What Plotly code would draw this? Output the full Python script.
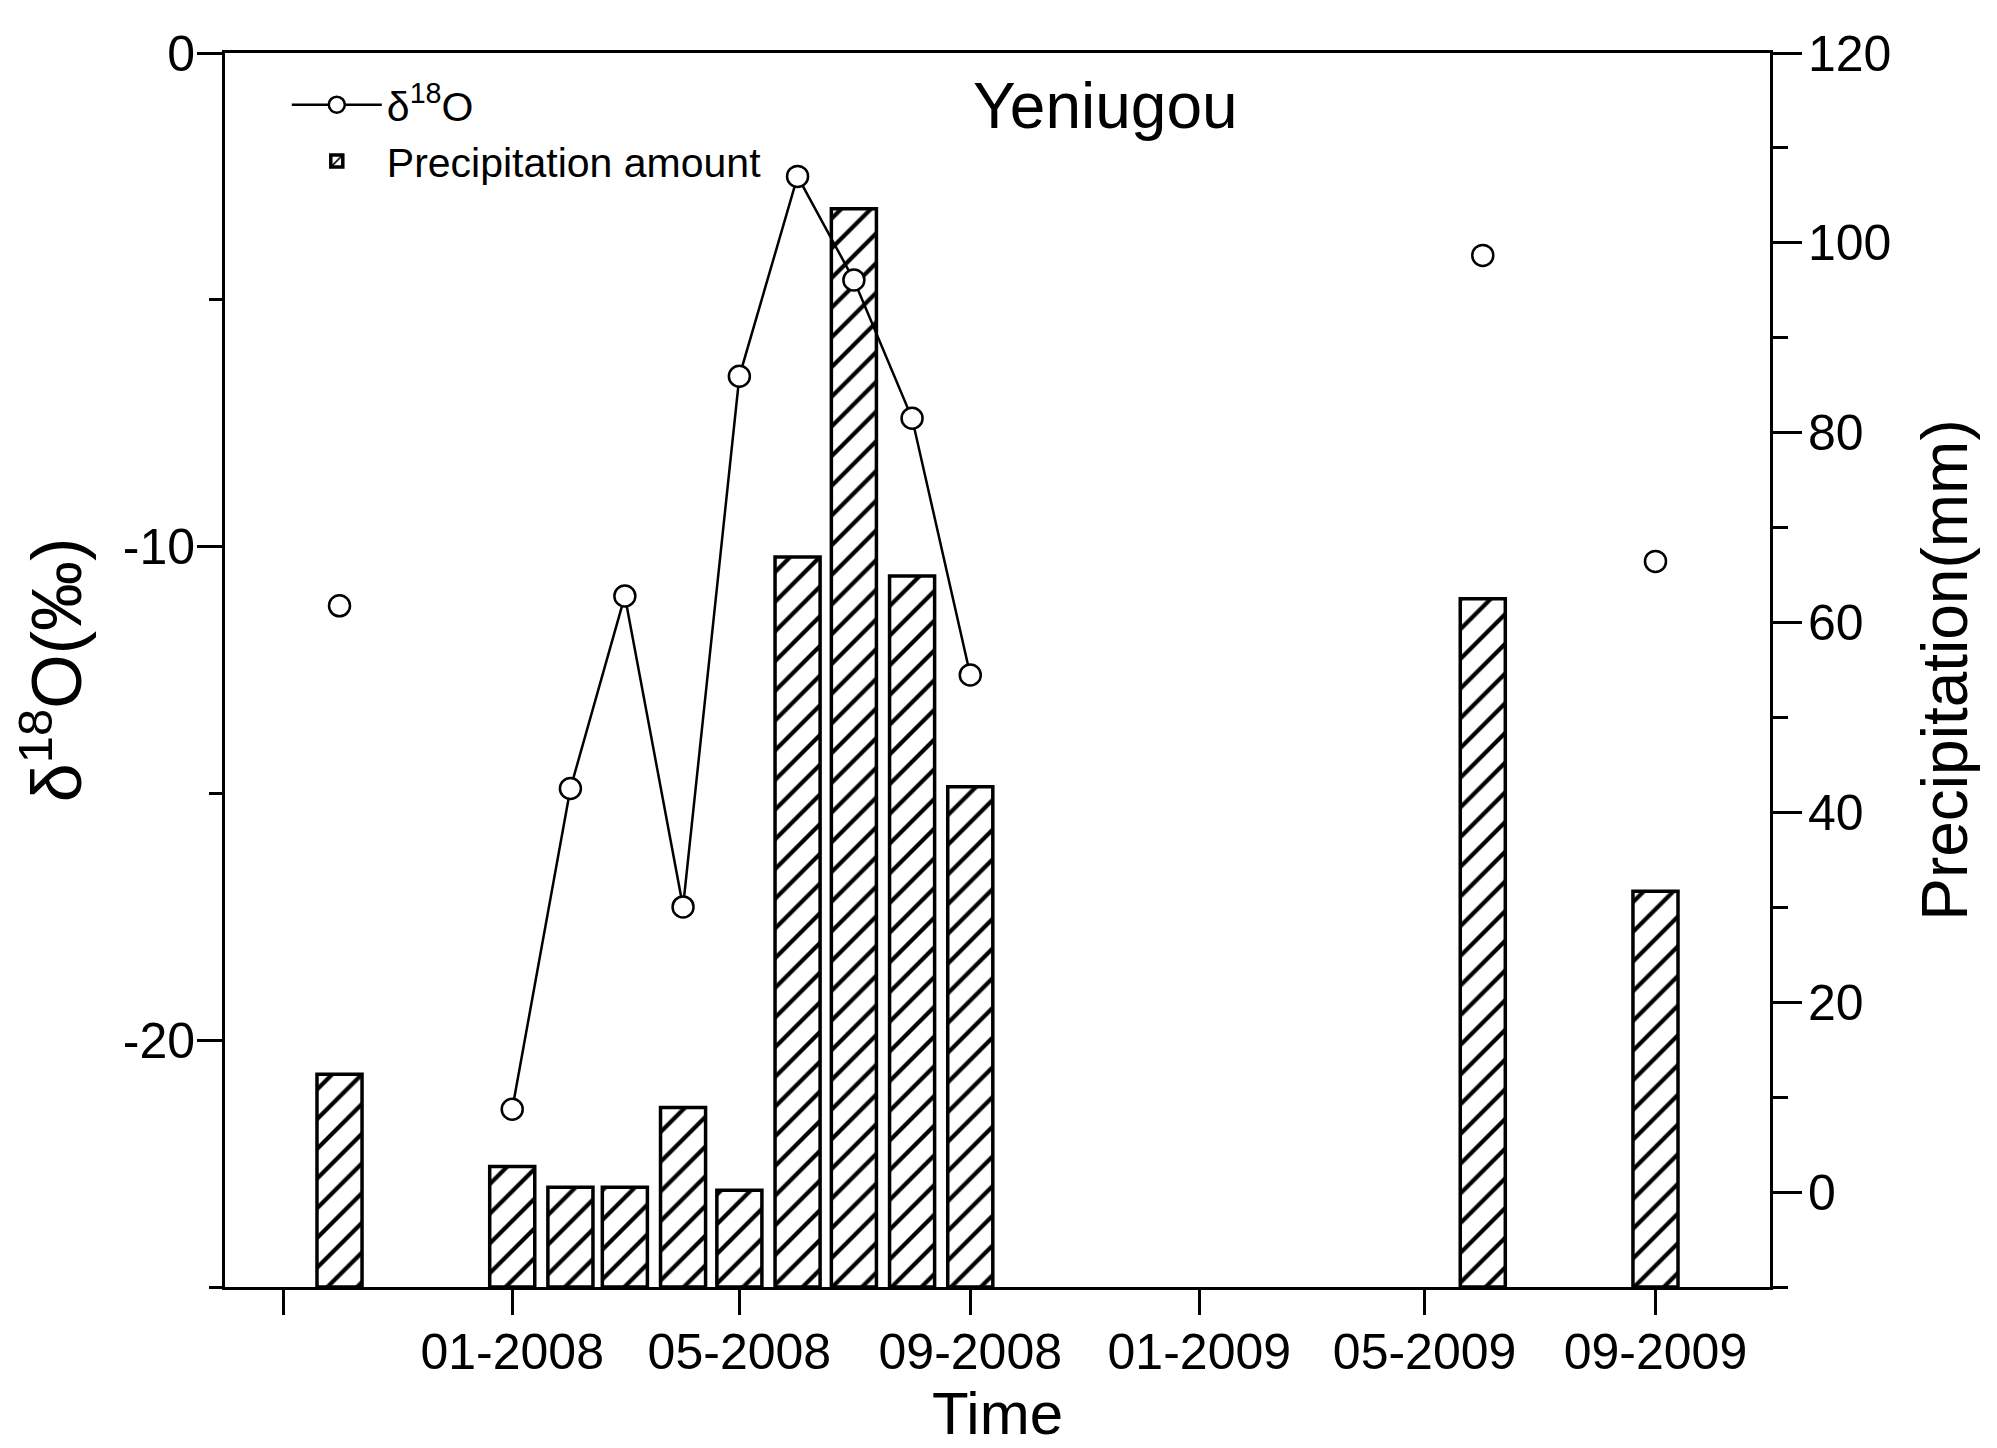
import plotly.graph_objects as go

# ---------------- data ----------------
months = ["2007-10-01", "2008-01-01", "2008-02-01", "2008-03-01", "2008-04-01",
          "2008-05-01", "2008-06-01", "2008-07-01", "2008-08-01", "2008-09-01",
          "2009-06-01", "2009-09-01"]
precip_mm = [12.4, 2.7, 0.5, 0.5, 8.9, 0.2, 66.9, 103.6, 64.9, 42.7, 62.5, 31.7]
d18o = [-11.2, -21.4, -14.9, -11.0, -17.3, -6.55, -2.5, -4.6, -7.4, -12.6, -4.1, -10.3]

tick_dates = ["2007-09-01", "2008-01-01", "2008-05-01", "2008-09-01",
              "2009-01-01", "2009-05-01", "2009-09-01"]
tick_text = ["", "01-2008", "05-2008", "09-2008", "01-2009", "05-2009", "09-2009"]

d18o_ticks = [0, -10, -20]
d18o_ticktext = ["0", "-10", "-20"]

PRECIP_RANGE = [-10, 120]
D18O_RANGE = [-25, 0]
X_RANGE = ["2007-08-01", "2009-11-01"]

FONT = "Liberation Sans, Arial, sans-serif"

# line only joins consecutive months; insert gaps elsewhere
def month_index(s):
    y, m, _ = s.split("-")
    return int(y) * 12 + int(m)

line_x, line_y = [], []
for i, (m, v) in enumerate(zip(months, d18o)):
    if i > 0 and month_index(m) - month_index(months[i - 1]) > 1:
        line_x.append(m)
        line_y.append(None)
    line_x.append(m)
    line_y.append(v)

bar_len = [p - PRECIP_RANGE[0] for p in precip_mm]
DAY_MS = 86400000

fig = go.Figure()

fig.add_trace(go.Bar(
    x=months, y=bar_len, base=PRECIP_RANGE[0],
    width=24 * DAY_MS,
    name="Precipitation amount",
    marker=dict(color="white",
                line=dict(color="black", width=3.5),
                pattern=dict(shape="/", fgcolor="black", bgcolor="white",
                             fgopacity=1, size=21, solidity=0.2)),
    yaxis="y", legendrank=2,
))

fig.add_trace(go.Scatter(
    x=line_x, y=line_y, mode="lines+markers",
    name="δ<sup>18</sup>O",
    line=dict(color="black", width=2.5),
    marker=dict(symbol="circle", size=21, color="white",
                line=dict(color="black", width=2.5)),
    connectgaps=False,
    yaxis="y2", legendrank=1,
))

axis_font = dict(family=FONT, size=50, color="black")

fig.update_layout(
    width=1997, height=1448,
    margin=dict(l=217, r=235, t=45, b=169),
    paper_bgcolor="white", plot_bgcolor="white",
    font=dict(family=FONT, color="black"),
    barmode="overlay",
    xaxis=dict(
        type="date", range=X_RANGE,
        tickvals=tick_dates, ticktext=tick_text,
        ticks="outside", ticklen=25, tickwidth=3, tickcolor="black",
        showline=True, linewidth=3, linecolor="black", mirror=True,
        showgrid=False, zeroline=False,
        tickfont=axis_font, ticklabelstandoff=-6,
        title=dict(text="Time", font=dict(family=FONT, size=60), standoff=4),
    ),
    yaxis=dict(
        side="right", range=PRECIP_RANGE, tick0=0, dtick=20,
        ticks="outside", ticklen=29, tickwidth=3, tickcolor="black",
        minor=dict(ticks="outside", dtick=10, ticklen=15, tickwidth=3, tickcolor="black"),
        showline=True, linewidth=3, linecolor="black",
        showgrid=False, zeroline=False,
        tickfont=axis_font, ticklabelstandoff=-4,
        title=dict(text="Precipitation(mm)", font=dict(family=FONT, size=64), standoff=32),
    ),
    yaxis2=dict(
        side="left", overlaying="y", range=D18O_RANGE,
        tickvals=d18o_ticks, ticktext=d18o_ticktext,
        ticks="outside", ticklen=25, tickwidth=3, tickcolor="black",
        minor=dict(ticks="outside", dtick=5, tick0=0, ticklen=13, tickwidth=3, tickcolor="black"),
        showline=True, linewidth=3, linecolor="black",
        showgrid=False, zeroline=False,
        tickfont=axis_font, ticklabelstandoff=-8,
        title=dict(text="δ<sup>18</sup>O(‰)", font=dict(family=FONT, size=70), standoff=20),
    ),
    legend=dict(
        x=0.04, y=0.985, xanchor="left", yanchor="top",
        bgcolor="rgba(0,0,0,0)", borderwidth=0,
        font=dict(family=FONT, size=41, color="black"),
        itemwidth=90, tracegroupgap=0,
    ),
    showlegend=True,
    annotations=[dict(
        text="Yeniugou", xref="paper", yref="paper",
        x=0.570, y=0.957, xanchor="center", yanchor="middle",
        showarrow=False, font=dict(family=FONT, size=64, color="black"),
    )],
)

fig.write_html("out.html")
